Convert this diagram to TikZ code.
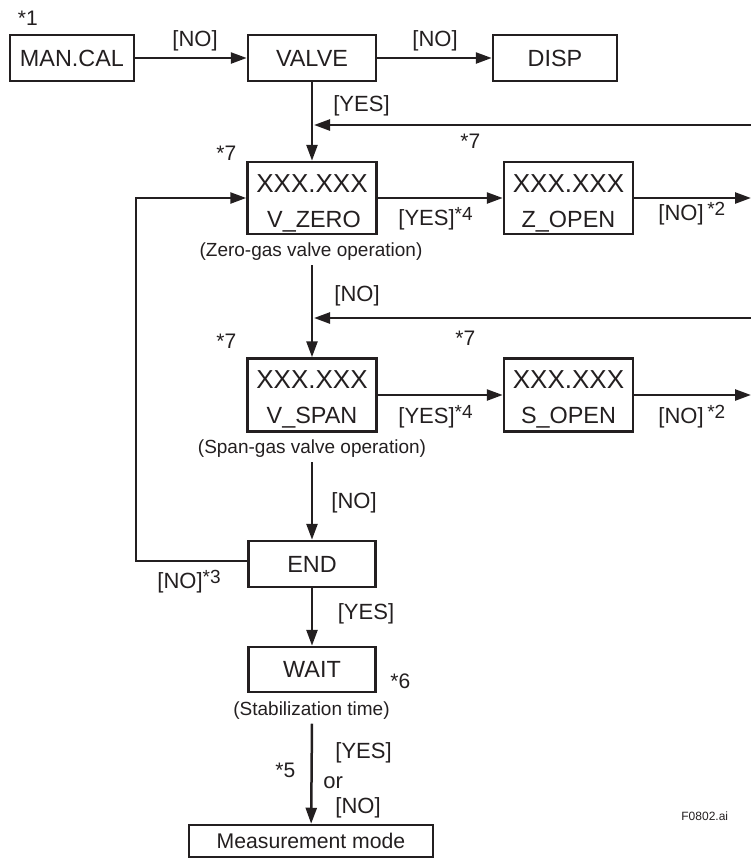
\documentclass[tikz,border=0pt]{standalone}
\usepackage{fontspec}
\setmainfont{Liberation Sans}
\usetikzlibrary{arrows.meta,calc}
\definecolor{ink}{RGB}{35,31,32}
\newcommand{\fs}[1]{\fontsize{#1}{#1}\selectfont}
\newcommand{\starsup}[1]{\raisebox{2.3pt}{\fs{9.5}*#1}}
\begin{document}
\begin{tikzpicture}[x=0.5pt,y=-0.5pt,
  box/.style={draw=ink, line width=1.25pt, inner sep=0pt, text=ink, font=\fs{11.7}},
  big/.style={text=ink, inner sep=0pt, font=\fs{13}},
  mid/.style={text=ink, inner sep=0pt, font=\fs{11.7}},
  lbl/.style={text=ink, inner sep=0pt, font=\fs{11}},
  note/.style={text=ink, inner sep=0pt, font=\fs{10.5}},
  paren/.style={text=ink, inner sep=2.2pt, font=\fs{9.5}},
  conn/.style={draw=ink, line width=1.25pt},
  arr/.style={conn, -{Triangle[length=8pt,width=5.5pt]}}]
\useasboundingbox (0,0) rectangle (751,859);

% boxes
\node[box, minimum width=62pt, minimum height=23pt] (mancal) at (72,58) {MAN.CAL};
\node[box, minimum width=64pt, minimum height=23pt] (valve) at (312,58) {VALVE};
\node[box, minimum width=62pt, minimum height=23pt] (disp) at (555,58) {DISP};
\node[box, minimum width=64.5pt, minimum height=36pt] (vzero) at (312,198) {};
\node[box, minimum width=64.5pt, minimum height=36pt] (zopen) at (568.5,198) {};
\node[box, minimum width=64.5pt, minimum height=36.5pt] (vspan) at (312,395) {};
\node[box, minimum width=64.5pt, minimum height=36.5pt] (sopen) at (568.5,395) {};
\node[box, minimum width=63.5pt, minimum height=23pt] (endb) at (312,564) {END};
\node[box, minimum width=63.5pt, minimum height=22.5pt] (wait) at (312,669.5) {WAIT};
\node[box, minimum width=122pt, minimum height=16pt, font=\fs{10.6}] (meas) at (311,841) {Measurement mode};

% texts inside two-line boxes
\node[big, anchor=base] (vzeroa) at (312,192) {XXX.XXX};
\node[mid, anchor=base] (vzerob) at (314,227) {V\_ZERO};
\node[big, anchor=base] (zopena) at (568.5,192) {XXX.XXX};
\node[mid, anchor=base] (zopenb) at (568.5,227) {Z\_OPEN};
\node[big, anchor=base] (vspana) at (312,388) {XXX.XXX};
\node[mid, anchor=base] (vspanb) at (312,423.5) {V\_SPAN};
\node[big, anchor=base] (sopena) at (568.5,388) {XXX.XXX};
\node[mid, anchor=base] (sopenb) at (568.5,423.5) {S\_OPEN};

% captions below boxes
\node[paren, anchor=base] (zlabel) at (311,256.5) {(Zero-gas valve operation)};
\node[paren, anchor=base] (slabel) at (312,453.5) {(Span-gas valve operation)};
\node[paren, anchor=base] (wlabel) at (311.5,715) {(Stabilization time)};

% notes and branch labels
\node[note, anchor=base west] (n1) at (17.5,25.5) {*1};
\node[lbl, anchor=base] (l1) at (195,46) {[NO]};
\node[lbl, anchor=base] (l2) at (435,46) {[NO]};
\node[lbl, anchor=base] (l3) at (361.5,111) {[YES]};
\node[note, anchor=base west] (n7a) at (216,160) {*7};
\node[note, anchor=base west] (n7b) at (460,148) {*7};
\node[lbl, anchor=base west] (l4) at (398,225.5) {[YES]\starsup{4}};
\node[lbl, anchor=base west] (l5) at (658,220.5) {[NO]\,\starsup{2}};
\node[lbl, anchor=base] (l6) at (357,301) {[NO]};
\node[note, anchor=base west] (n7c) at (216,348) {*7};
\node[note, anchor=base west] (n7d) at (455,345) {*7};
\node[lbl, anchor=base west] (l7) at (398,423) {[YES]\starsup{4}};
\node[lbl, anchor=base west] (l8) at (658,423) {[NO]\,\starsup{2}};
\node[lbl, anchor=base] (l9) at (354,508) {[NO]};
\node[lbl, anchor=base west] (l10) at (157,588) {[NO]\starsup{3}};
\node[lbl, anchor=base] (l11) at (366,619) {[YES]};
\node[note, anchor=base west] (n6) at (390,688) {*6};
\node[note, anchor=base west] (n5) at (275,777) {*5};
\node[lbl, anchor=base west] (l12) at (335,758) {[YES]};
\node[lbl, anchor=base west] (l13) at (323,788) {or};
\node[lbl, anchor=base west] (l14) at (335,813) {[NO]};
\node[text=ink, inner sep=0pt, font=\fs{6}, anchor=base west] (fig) at (681,820) {F0802.ai};

% connectors
\coordinate (r1) at (751,125);
\coordinate (r2) at (751,318);
\coordinate (o1) at (751,198);
\coordinate (o2) at (751,395);
\coordinate (lx) at (136,0);
\draw[arr] (mancal) -- (valve);
\draw[arr] (valve) -- (disp);
\draw[arr] (valve) -- (vzero);
\draw[arr] (r1) -- ($(valve.south |- r1)+(2,0)$);
\draw[arr] (vzero) -- (zopen);
\draw[arr] (zopen) -- (o1);
\draw[arr] (zlabel.south -| vzero) -- (vspan);
\draw[arr] (r2) -- ($(vzero.south |- r2)+(2,0)$);
\draw[arr] (vspan) -- (sopen);
\draw[arr] (sopen) -- (o2);
\draw[arr] (slabel.south -| vspan) -- (endb);
\draw[arr] ([yshift=1.5pt]endb.west) -| (lx |- vzero.west) -- (vzero.west);
\draw[arr] (endb) -- (wait);
\draw[arr] (wlabel.south -| wait) -- (meas);
\end{tikzpicture}
\end{document}
